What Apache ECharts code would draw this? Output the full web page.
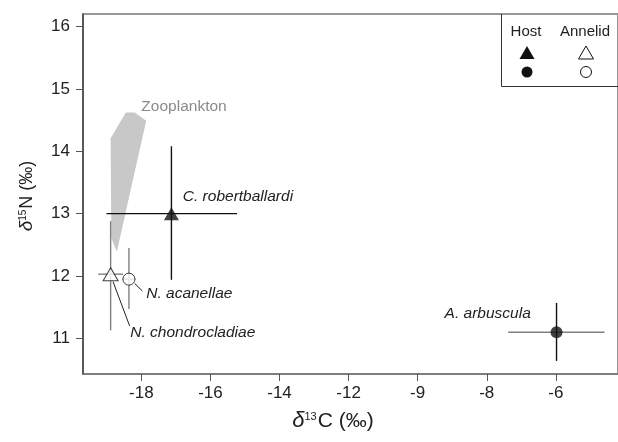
<!DOCTYPE html>
<html>
<head>
<meta charset="utf-8">
<script src="https://cdn.jsdelivr.net/npm/echarts@6/dist/echarts.min.js"></script>
<style>
html, body { margin: 0; padding: 0; background: #fff; }
#chart { width: 618px; height: 442px; }
</style>
</head>
<body>
<div id="chart"></div>
<script>
// isotope values (mean, and ends of the error bars)
var species = ['C. robertballardi', 'A. arbuscula', 'N. chondrocladiae', 'N. acanellae'];
var groups = ['Host', 'Host', 'Annelid', 'Annelid'];
var shapes = ['triangle', 'circle', 'triangle', 'circle'];
var d13C = [-17.13, -5.98, -18.89, -18.36];
var d15N = [13.0, 11.1, 12.03, 11.95];
var d13C_lo = [-19.01, -7.38, -19.25, -18.55];
var d13C_hi = [-15.23, -4.59, -18.53, -18.17];
var d15N_lo = [11.94, 10.64, 11.13, 11.47];
var d15N_hi = [14.08, 11.57, 12.88, 12.45];

// zooplankton range outline
var zooC = [-18.89, -18.45, -18.19, -17.86, -18.71, -18.87];
var zooN = [14.21, 14.62, 14.62, 14.49, 12.39, 12.61];

var xTicks = [-18, -16, -14, -12, -10, -8, -6];
var xTickLabels = ['-18', '-16', '-14', '-12', '-9', '-8', '-6'];
var yTicks = [11, 12, 13, 14, 15, 16];

var hColor = ['#111', '#808080', '#808080', '#808080'];
var vColor = ['#111', '#111', '#808080', '#808080'];

// text labels: anchor in data units, leader line optional
var notes = [
	{ text: 'Zooplankton', x: -18.0, y: 14.71, color: '#8a8a8a', italic: false },
	{ text: 'C. robertballardi', x: -16.8, y: 13.27, color: '#222', italic: true },
	{ text: 'N. acanellae', x: -17.86, y: 11.72, color: '#222', italic: true, line: [-18.19, 11.88, -17.97, 11.76] },
	{ text: 'N. chondrocladiae', x: -18.32, y: 11.09, color: '#222', italic: true, line: [-18.82, 11.91, -18.34, 11.20] },
	{ text: 'A. arbuscula', x: -9.22, y: 11.40, color: '#222', italic: true }
];

var font = 'Liberation Sans, Arial, Helvetica, sans-serif';
var chart = echarts.init(document.getElementById('chart'));

var option = {
	animation: false,
	grid: { left: 83, top: 14, right: -2, bottom: 68, show: true, borderColor: '#777', borderWidth: 1.5 },
	xAxis: {
		type: 'value',
		min: -19.69,
		max: -4.2,
		axisLine: { show: true, lineStyle: { color: '#777', width: 1.5 } },
		axisTick: { show: true, length: 7, lineStyle: { color: '#555', width: 1 }, customValues: xTicks },
		axisLabel: {
			customValues: xTicks,
			margin: 11,
			color: '#222',
			fontSize: 17,
			fontFamily: font,
			formatter: function (v) {
				var i = xTicks.indexOf(v);
				return i >= 0 ? xTickLabels[i] : '';
			}
		},
		splitLine: { show: false }
	},
	yAxis: {
		type: 'value',
		min: 10.43,
		max: 16.2,
		axisLine: { show: true, lineStyle: { color: '#444', width: 1.5 } },
		axisTick: { show: true, length: 7, lineStyle: { color: '#555', width: 1 }, customValues: yTicks },
		axisLabel: { customValues: yTicks, margin: 13, color: '#222', fontSize: 17, fontFamily: font },
		splitLine: { show: false }
	},
	graphic: [
		// axis titles
		{
			type: 'text', x: 333, y: 421,
			style: {
				text: '{d|δ}{s|13}{c|C (‰)}',
				textAlign: 'center', textVerticalAlign: 'middle', fill: '#222', fontFamily: font,
				rich: {
					d: { fontSize: 22, fontFamily: font, fontStyle: 'italic', fill: '#222' },
					s: { fontSize: 11, fontFamily: font, fill: '#222', padding: [0, 1, 8, 0] },
					c: { fontSize: 21, fontFamily: font, fill: '#222' }
				}
			}
		},
		{
			type: 'text', x: 27, y: 196, rotation: Math.PI / 2,
			style: {
				text: '{d|δ}{s|15}{c|N (‰)}',
				textAlign: 'center', textVerticalAlign: 'middle', fill: '#222', fontFamily: font,
				rich: {
					d: { fontSize: 19, fontFamily: font, fontStyle: 'italic', fill: '#222' },
					s: { fontSize: 10, fontFamily: font, fill: '#222', padding: [0, 1, 7, 0] },
					c: { fontSize: 18, fontFamily: font, fill: '#222' }
				}
			}
		},
		// legend box
		{ type: 'line', shape: { x1: 501.5, y1: 14, x2: 501.5, y2: 86.5 }, style: { stroke: '#333', lineWidth: 1 } },
		{ type: 'line', shape: { x1: 501.5, y1: 86.5, x2: 620, y2: 86.5 }, style: { stroke: '#333', lineWidth: 1 } },
		{ type: 'text', x: 526, y: 32, style: { text: 'Host', textAlign: 'center', textVerticalAlign: 'middle', fontSize: 15, fontFamily: font, fill: '#222' } },
		{ type: 'text', x: 585, y: 32, style: { text: 'Annelid', textAlign: 'center', textVerticalAlign: 'middle', fontSize: 15, fontFamily: font, fill: '#222' } },
		{ type: 'polygon', shape: { points: [[527, 46], [534.5, 59], [519.5, 59]] }, style: { fill: '#111' } },
		{ type: 'polygon', shape: { points: [[586, 46], [593.5, 59], [578.5, 59]] }, style: { fill: '#fff', stroke: '#111', lineWidth: 1 } },
		{ type: 'circle', shape: { cx: 527, cy: 72, r: 5.5 }, style: { fill: '#111' } },
		{ type: 'circle', shape: { cx: 586, cy: 72, r: 5.5 }, style: { fill: '#fff', stroke: '#111', lineWidth: 1 } }
	],
	series: [
		{
			name: 'Zooplankton',
			type: 'custom',
			data: [[zooC[0], zooN[0]]],
			renderItem: function (params, api) {
				var pts = zooC.map(function (c, i) { return api.coord([c, zooN[i]]); });
				return { type: 'polygon', shape: { points: pts }, style: { fill: '#c8c8c8' } };
			},
			z: 1
		},
		{
			name: 'errors',
			type: 'custom',
			data: species.map(function (s, i) { return [d13C[i], d15N[i]]; }),
			renderItem: function (params, api) {
				var i = params.dataIndex;
				var l = api.coord([d13C_lo[i], d15N[i]]);
				var r = api.coord([d13C_hi[i], d15N[i]]);
				var t = api.coord([d13C[i], d15N_hi[i]]);
				var b = api.coord([d13C[i], d15N_lo[i]]);
				return {
					type: 'group',
					children: [
						{ type: 'line', shape: { x1: l[0], y1: l[1], x2: r[0], y2: r[1] }, style: { stroke: hColor[i], lineWidth: 1.4 } },
						{ type: 'line', shape: { x1: t[0], y1: t[1], x2: b[0], y2: b[1] }, style: { stroke: vColor[i], lineWidth: 1.4 } }
					]
				};
			},
			z: 2
		},
		{
			name: 'notes',
			type: 'custom',
			data: notes.map(function (n) { return [n.x, n.y]; }),
			renderItem: function (params, api) {
				var n = notes[params.dataIndex];
				var p = api.coord([n.x, n.y]);
				var kids = [{
					type: 'text', x: p[0], y: p[1],
					style: {
						text: n.text, textAlign: 'left', textVerticalAlign: 'middle',
						fontSize: 15.5, fontFamily: font, fontStyle: n.italic ? 'italic' : 'normal', fill: n.color
					}
				}];
				if (n.line) {
					var a = api.coord([n.line[0], n.line[1]]);
					var b = api.coord([n.line[2], n.line[3]]);
					kids.push({ type: 'line', shape: { x1: a[0], y1: a[1], x2: b[0], y2: b[1] }, style: { stroke: '#222', lineWidth: 1 } });
				}
				return { type: 'group', children: kids };
			},
			z: 3
		},
		{
			name: 'points',
			type: 'scatter',
			data: species.map(function (s, i) {
				var host = groups[i] === 'Host';
				return {
					name: s,
					value: [d13C[i], d15N[i]],
					symbol: shapes[i],
					symbolSize: shapes[i] === 'triangle' ? [15, 13] : 12,
					itemStyle: host ? { color: '#111' } : { color: '#fff', borderColor: '#111', borderWidth: 1 }
				};
			}),
			z: 4
		}
	]
};

chart.setOption(option);
window.onresize = chart.resize;
</script>
</body>
</html>
